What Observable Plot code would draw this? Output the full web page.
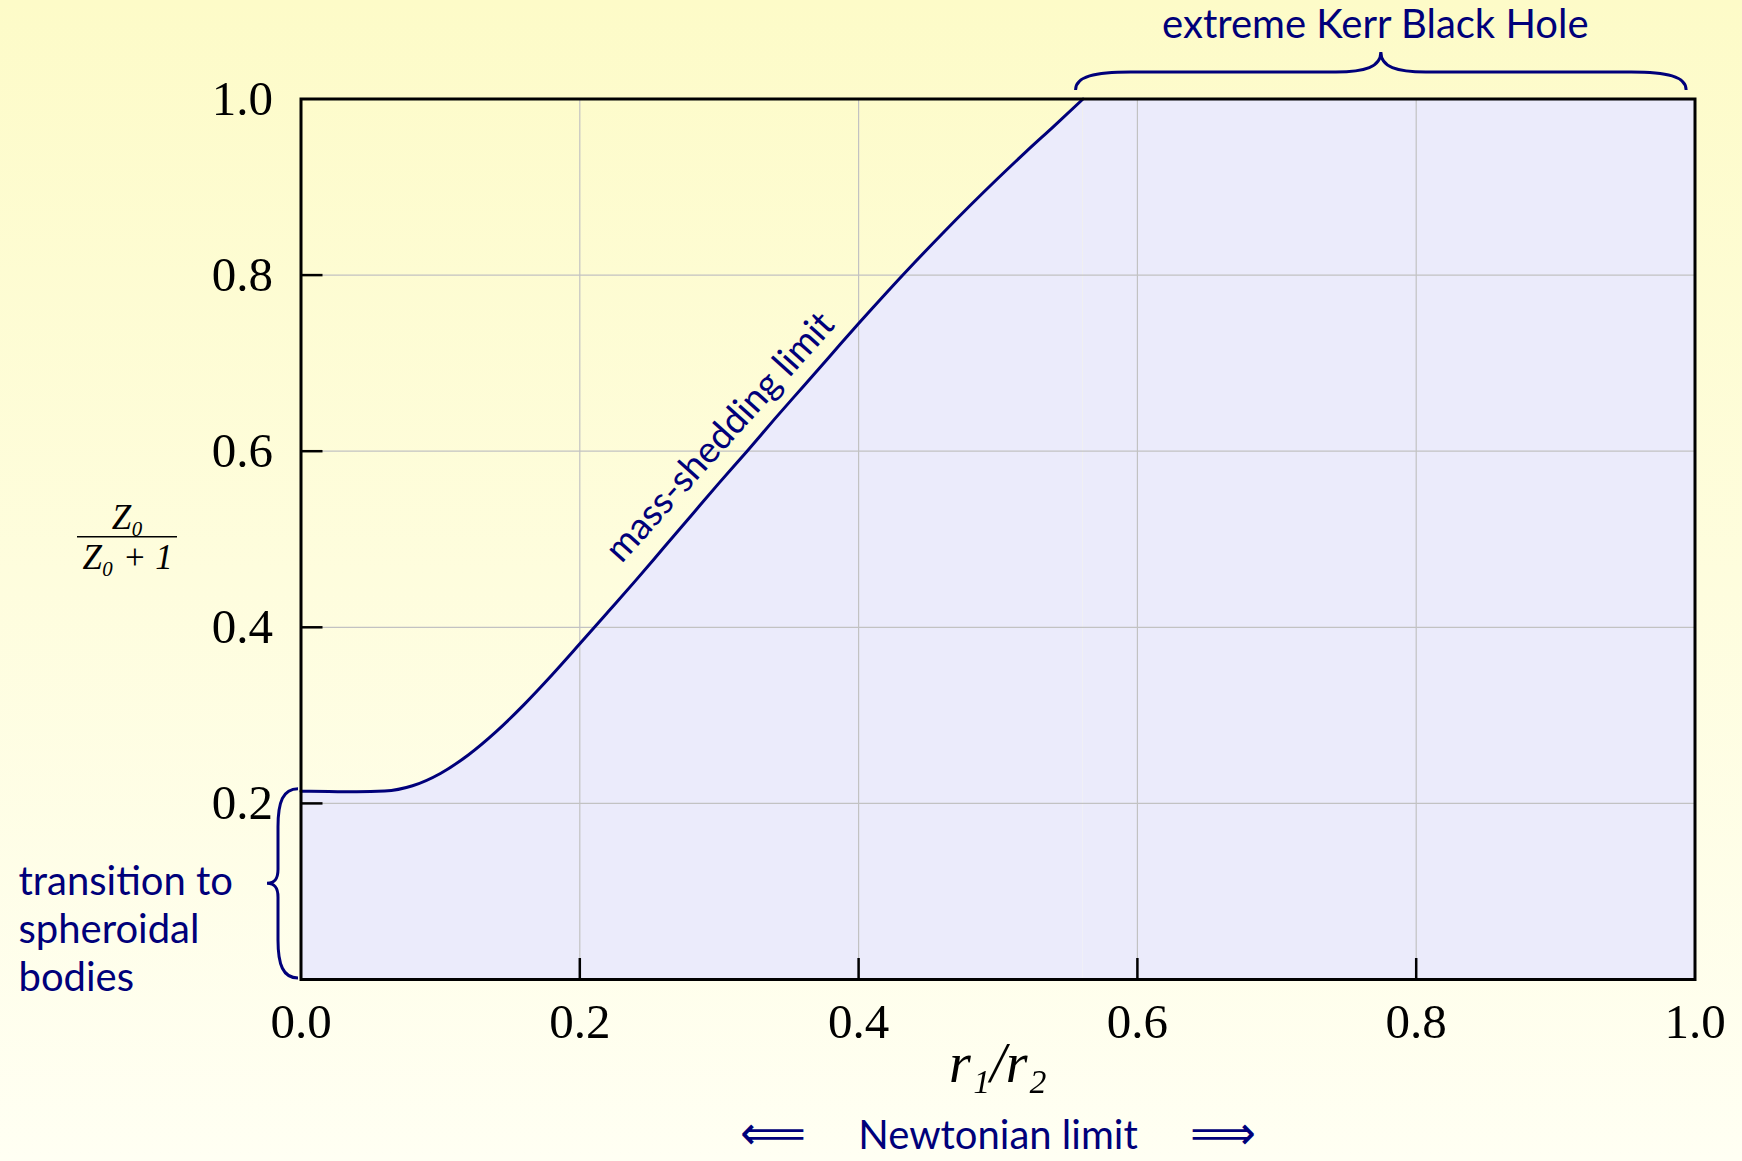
<!DOCTYPE html>
<html><head><meta charset="utf-8">
<script src="https://cdn.jsdelivr.net/npm/d3@7"></script>
<script src="https://cdn.jsdelivr.net/npm/@observablehq/plot@0.6"></script>
<style>
html,body{margin:0;padding:0;}
body{width:1742px;height:1161px;background:linear-gradient(to bottom,#fdfbc8,#fffff3);overflow:hidden;}
svg{display:block;}
</style></head><body><div id="chart"></div>
<script>
// r1/r2 along the mass-shedding limit
const ratioR = [0, 0.02, 0.04, 0.06, 0.08, 0.10, 0.12, 0.14, 0.16, 0.18, 0.20, 0.22, 0.24, 0.26, 0.28, 0.30, 0.32, 0.34, 0.36, 0.38, 0.40, 0.42, 0.44, 0.46, 0.48, 0.50, 0.52, 0.54, 0.561];
// Z0/(Z0+1) along the mass-shedding limit
const zRatio = [0.2139, 0.2134, 0.2132, 0.2140, 0.2200, 0.2340, 0.2550, 0.2815, 0.3122, 0.3458, 0.3812, 0.4170, 0.4530, 0.4900, 0.5270, 0.5640, 0.6000, 0.6370, 0.6730, 0.7090, 0.7450, 0.7800, 0.8140, 0.8470, 0.8790, 0.9100, 0.9400, 0.9690, 1.0];
// extreme Kerr plateau
const plateauR = [0.561, 1.0];
const plateauZ = [1.0, 1.0];
const xTicks = [0, 0.2, 0.4, 0.6, 0.8, 1.0];
const yTicks = [0.2, 0.4, 0.6, 0.8, 1.0];
const innerTicks = [0.2, 0.4, 0.6, 0.8];
const kerrSpan = [0.556, 0.994];
const spheroidSpan = [0, 0.2139];
const labels = {
  kerr: "extreme Kerr Black Hole",
  transition: "transition to\nspheroidal\nbodies",
  newton: "Newtonian limit",
  leftArrow: "\u27F8",
  rightArrow: "\u27F9",
  shedding: "mass-shedding limit",
  xLabel: "r\u2081/r\u2082",
  yNum: "Z\u2080",
  yDen: "Z\u2080 + 1"
};

const navy = "#00007a";
const lavender = "#ebebfb";
const sans = "Lato, 'Open Sans', sans-serif";
const serif = "'Liberation Serif', 'DejaVu Serif', serif";
const W = 1742, H = 1161, mL = 300.5, mR = 47.5, mT = 98.5, mB = 182;
const plotW = W - mL - mR, plotH = H - mT - mB;

const curve = ratioR.map((x, i) => ({x, y: zRatio[i]}));
const plateau = plateauR.map((x, i) => ({x, y: plateauZ[i]}));
const labelPoint = curve.filter(d => d.x === 0.32);

const plot = Plot.plot({
  width: W, height: H,
  marginLeft: mL, marginRight: mR, marginTop: mT, marginBottom: mB,
  style: {background: "transparent", fontFamily: serif, overflow: "visible"},
  x: {domain: [0, 1], label: null},
  y: {domain: [0, 1], label: null},
  marks: [
    Plot.areaY(curve, {x: "x", y: "y", fill: lavender, curve: "monotone-x"}),
    Plot.areaY(plateau, {x: "x", y: "y", fill: lavender}),
    Plot.gridX(innerTicks, {stroke: "#c2c2c2", strokeOpacity: 1, strokeWidth: 1.2}),
    Plot.gridY(innerTicks, {stroke: "#c2c2c2", strokeOpacity: 1, strokeWidth: 1.2}),
    Plot.ruleX(innerTicks, {x: d => d, insetTop: plotH - 21, stroke: "black", strokeWidth: 2.5}),
    Plot.ruleY(innerTicks, {y: d => d, insetRight: plotW - 22, stroke: "black", strokeWidth: 2.5}),
    Plot.line(curve, {x: "x", y: "y", stroke: navy, strokeWidth: 3, curve: "monotone-x"}),
    Plot.frame({stroke: "black", strokeWidth: 3}),
    Plot.axisX(xTicks, {tickSize: 0, tickPadding: 24, fontSize: 49, fontFamily: serif, fill: "black", tickFormat: d3.format(".1f"), label: null}),
    Plot.axisY(yTicks, {tickSize: 0, tickPadding: 28, fontSize: 49, fontFamily: serif, fill: "black", tickFormat: d3.format(".1f"), label: null}),
    Plot.text([labels.kerr], {x: () => (kerrSpan[0] + kerrSpan[1]) / 2, text: d => d, frameAnchor: "top", lineAnchor: "middle", dx: -6, dy: -73.5, fontFamily: sans, fontSize: 40, fill: navy}),
    Plot.text([labels.transition], {text: d => d, frameAnchor: "left", textAnchor: "start", lineAnchor: "middle", dx: -282.5, dy: 388, lineHeight: 1.2, fontFamily: sans, fontSize: 40, fill: navy}),
    Plot.text([labels.newton], {text: d => d, frameAnchor: "bottom", lineAnchor: "middle", dy: 157, fontFamily: sans, fontSize: 40, fill: navy}),
    Plot.text([labels.leftArrow], {text: d => d, frameAnchor: "bottom", lineAnchor: "middle", dx: -225, dy: 155, fontFamily: "'DejaVu Sans'", fontSize: 46, fill: navy}),
    Plot.text([labels.rightArrow], {text: d => d, frameAnchor: "bottom", lineAnchor: "middle", dx: 225, dy: 155, fontFamily: "'DejaVu Sans'", fontSize: 46, fill: navy}),
    Plot.text(labelPoint, {x: "x", y: "y", text: () => labels.shedding, rotate: -48, dx: -27, dy: -14, fontFamily: sans, fontSize: 37, fill: navy}),
    Plot.text([labels.xLabel], {text: d => d, frameAnchor: "bottom", lineAnchor: "middle", dy: 85, fontFamily: serif, fontStyle: "italic", fontSize: 56, fill: "black"}),
    Plot.text([labels.yNum], {text: d => d, frameAnchor: "left", textAnchor: "middle", lineAnchor: "middle", dx: -173.5, dy: -21, fontFamily: serif, fontStyle: "italic", fontSize: 35, fill: "black"}),
    Plot.text([labels.yDen], {text: d => d, frameAnchor: "left", textAnchor: "middle", lineAnchor: "middle", dx: -173.5, dy: 19, fontFamily: serif, fontStyle: "italic", fontSize: 35, fill: "black"})
  ]
});
document.getElementById("chart").appendChild(plot);

// braces and fraction bar, positioned with the plot's scales
const sx = plot.scale("x"), sy = plot.scale("y");
function bracePath(L, a, b, rEnd, rTip, map) {
  const h = L / 2;
  const P = (t, o) => map(t, o).join(",");
  return "M" + P(0, 0) +
    "C" + P(0, a * 0.75) + " " + P(rEnd * 0.35, a) + " " + P(rEnd, a) +
    "L" + P(h - rTip, a) +
    "C" + P(h - rTip * 0.35, a) + " " + P(h, a + (b - a) * 0.25) + " " + P(h, b) +
    "C" + P(h, a + (b - a) * 0.25) + " " + P(h + rTip * 0.35, a) + " " + P(h + rTip, a) +
    "L" + P(L - rEnd, a) +
    "C" + P(L - rEnd * 0.35, a) + " " + P(L, a * 0.75) + " " + P(L, 0) ;
}
const svg = d3.select(plot);
{
  const x0 = sx.apply(kerrSpan[0]), x1 = sx.apply(kerrSpan[1]), yb = sy.apply(1) - 8.5;
  svg.append("path")
    .attr("d", bracePath(x1 - x0, 18, 38, 55, 45, (t, o) => [x0 + t, yb - o]))
    .attr("fill", "none").attr("stroke", navy).attr("stroke-width", 3);
}
{
  const yTop = sy.apply(spheroidSpan[1]) - 2, yBot = sy.apply(spheroidSpan[0]) - 1, xb = sx.apply(0) - 2.5;
  svg.append("path")
    .attr("d", bracePath(yBot - yTop, 20, 31, 38, 14, (t, o) => [xb - o, yTop + t]))
    .attr("fill", "none").attr("stroke", navy).attr("stroke-width", 3);
}
{
  const cx = sx.apply(0) - 173.5, cy = (sy.apply(0) + sy.apply(1)) / 2 - 2;
  svg.append("line").attr("x1", cx - 50).attr("x2", cx + 50).attr("y1", cy).attr("y2", cy)
    .attr("stroke", "black").attr("stroke-width", 1.5);
}
</script></body></html>
